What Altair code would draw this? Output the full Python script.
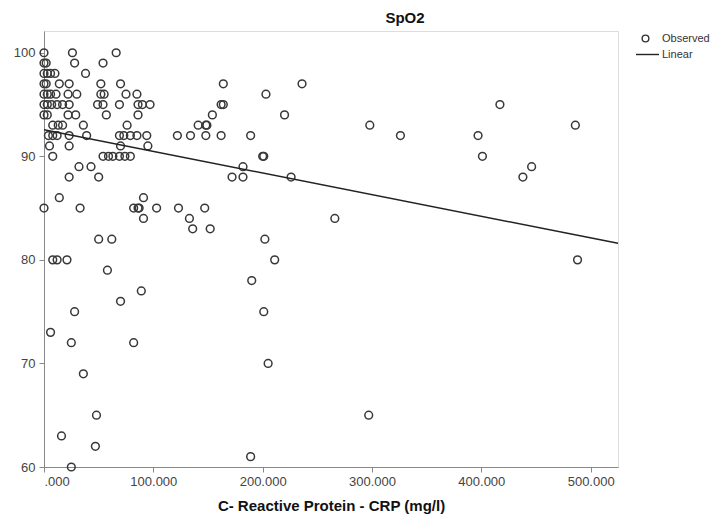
import altair as alt
import pandas as pd

# Observed points: CRP (mg/l) and SpO2
crp = [
    0, 26, 66,
    0, 2, 28, 54,
    0, 3, 6, 10, 38,
    0, 2, 14, 23, 52, 70, 164, 236,
    0, 3, 6, 11, 22, 30, 52, 55, 75, 85, 203,
    0, 3, 7, 12, 17, 23, 49, 54, 69, 86, 90, 97, 162, 164, 417,
    0, 3, 22, 29, 57, 86, 154, 220,
    8, 13, 17, 36, 76, 141, 148, 149, 298, 486,
    4, 8, 12, 23, 39, 69, 73, 79, 85, 94, 122, 134, 148, 162, 189, 326, 397,
    5, 23, 70, 95,
    8, 54, 59, 63, 69, 74, 79, 200, 201, 401,
    32, 43, 182, 446,
    23, 50, 172, 182, 226, 438,
    14, 91,
    0, 33, 82, 86, 87, 103, 123, 147,
    91, 133, 266,
    136, 152,
    50, 62, 202,
    8, 12, 21, 211, 488,
    58, 190, 89, 70,
    28, 201,
    6,
    25, 82,
    205, 36,
    48, 297,
    16, 47, 189, 25,
]
spo2 = [
    100, 100, 100,
    99, 99, 99, 99,
    98, 98, 98, 98, 98,
    97, 97, 97, 97, 97, 97, 97, 97,
    96, 96, 96, 96, 96, 96, 96, 96, 96, 96, 96,
    95, 95, 95, 95, 95, 95, 95, 95, 95, 95, 95, 95, 95, 95, 95,
    94, 94, 94, 94, 94, 94, 94, 94,
    93, 93, 93, 93, 93, 93, 93, 93, 93, 93,
    92, 92, 92, 92, 92, 92, 92, 92, 92, 92, 92, 92, 92, 92, 92, 92, 92,
    91, 91, 91, 91,
    90, 90, 90, 90, 90, 90, 90, 90, 90, 90,
    89, 89, 89, 89,
    88, 88, 88, 88, 88, 88,
    86, 86,
    85, 85, 85, 85, 85, 85, 85, 85,
    84, 84, 84,
    83, 83,
    82, 82, 82,
    80, 80, 80, 80, 80,
    79, 78, 77, 76,
    75, 75,
    73,
    72, 72,
    70, 69,
    65, 65,
    63, 62, 61, 60,
]

# Linear fit line end points
fit_crp = [0, 525]
fit_spo2 = [92.56, 81.6]

x_ticks = [0, 100, 200, 300, 400, 500]
y_ticks = [60, 70, 80, 90, 100]

obs = pd.DataFrame({"crp": crp, "spo2": spo2, "series": "Observed"})
fit = pd.DataFrame({"crp": fit_crp, "spo2": fit_spo2, "series": "Linear"})

FONT = "Liberation Sans"

x_enc = alt.X(
    "crp:Q",
    scale=alt.Scale(domain=[0, 525], nice=False, zero=False),
    axis=alt.Axis(
        values=x_ticks,
        grid=False,
        labelExpr="datum.value == 0 ? '.000' : format(datum.value, '.3f')",
        labelFontSize=13,
        labelFont=FONT,
        labelColor="#444",
        title="C- Reactive  Protein - CRP (mg/l)",
        titleFont=FONT,
        titleFontSize=15,
        titleFontWeight="bold",
        titleColor="#111",
        titlePadding=10,
        labelPadding=3,
    ),
)
y_enc = alt.Y(
    "spo2:Q",
    scale=alt.Scale(domain=[60, 102.1], nice=False, zero=False),
    axis=alt.Axis(values=y_ticks, title=None, labelPadding=4, grid=False,
                  labelFontSize=13, labelFont=FONT, labelColor="#444"),
)

points = alt.Chart(obs).mark_point(
    filled=False, size=60, strokeWidth=1.5, color="#383838", opacity=1
).encode(
    x=x_enc,
    y=y_enc,
    shape=alt.Shape(
        "series:N",
        scale=alt.Scale(domain=["Observed"], range=["circle"]),
        legend=alt.Legend(
            orient="none", legendX=596, legendY=2, title=None,
            symbolStrokeColor="#333", symbolFillColor="transparent",
            symbolSize=45, symbolStrokeWidth=1.4, labelOffset=11,
            labelFontSize=11, labelFont=FONT, labelColor="#333", padding=0,
        ),
    ),
)

line = alt.Chart(fit).mark_line(strokeWidth=1.5).encode(
    x="crp:Q",
    y="spo2:Q",
    color=alt.Color(
        "series:N",
        scale=alt.Scale(domain=["Linear"], range=["#222222"]),
        legend=alt.Legend(
            orient="none", legendX=591, legendY=11, title=None,
            symbolType="stroke", symbolSize=529, symbolStrokeWidth=1.4,
            labelOffset=2, labelFontSize=11, labelFont=FONT,
            labelColor="#333", padding=0,
        ),
    ),
)

chart = alt.layer(points, line).properties(
    width=574,
    height=436,
    autosize=alt.AutoSizeParams(type="none"),
    padding={"left": 44, "top": 31, "right": 109, "bottom": 51},
    title=alt.TitleParams(
        "SpO2", fontSize=15, fontWeight="bold", font=FONT, anchor="middle",
        frame="group", dx=74, offset=5, color="#111",
    ),
).configure_view(
    fill="#F0F0F0", stroke="#8a8a8a", strokeWidth=2
).configure_axis(
    tickSize=5, tickColor="#444", domainColor="#444",
    domainWidth=1.5, tickWidth=1.2, grid=False,
).configure(background="white")

chart.save("out.html", embed_options={"renderer": "svg", "actions": False})
